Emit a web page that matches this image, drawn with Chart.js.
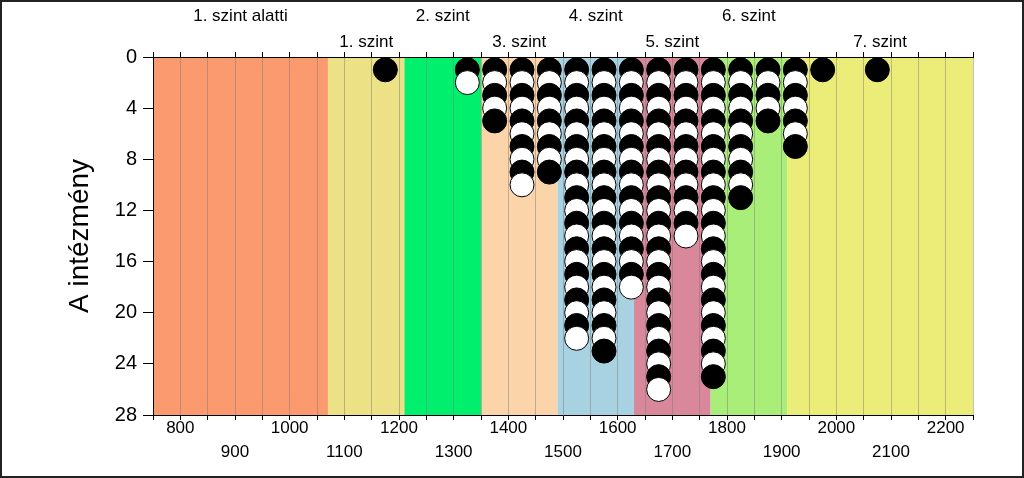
<!DOCTYPE html>
<html>
<head>
<meta charset="utf-8">
<script src="https://cdn.jsdelivr.net/npm/chart.js@4.4.1/dist/chart.umd.min.js"></script>
<style>
  html, body { margin: 0; padding: 0; background: #fff; }
</style>
</head>
<body>
<canvas id="dotchart" width="1024" height="478"></canvas>
<script>
// bin centres (score) and number of institutions in each bin
const binCenters = [1175, 1325, 1375, 1425, 1475, 1525, 1575, 1625, 1675, 1725, 1775, 1825, 1875, 1925, 1975, 2075];
const binCounts = [1, 2, 5, 10, 9, 22, 23, 18, 26, 14, 25, 11, 5, 7, 1, 1];

// proficiency levels
const levelLabels = ['1. szint alatti', '1. szint', '2. szint', '3. szint', '4. szint', '5. szint', '6. szint', '7. szint'];
const levelEdges = [750, 1070, 1210, 1350, 1490, 1630, 1770, 1910, 2250];
const levelColors = ['#fa9a6e', '#ece184', '#00f06e', '#fcd4aa', '#a8d2e2', '#d9879a', '#a8ee78', '#ecec78'];
const levelCenters = levelLabels.map((l, i) => (levelEdges[i] + levelEdges[i + 1]) / 2);

const xMin = 750, xMax = 2250;
const yMin = 0, yMax = 28;

// one dot per institution, stacked down from the top of each bin
const dots = [];
binCenters.forEach((c, i) => {
    for (let k = 1; k <= binCounts[i]; k++) dots.push({ x: c, y: k });
});

Chart.defaults.font.family = "'Liberation Sans', Arial, sans-serif";
Chart.defaults.color = '#000';

const levelBands = {
    id: 'levelBands',
    beforeDraw(chart) {
        const { ctx, chartArea: a, scales: { x } } = chart;
        ctx.save();
        levelColors.forEach((col, i) => {
            const x0 = x.getPixelForValue(levelEdges[i]);
            const x1 = x.getPixelForValue(levelEdges[i + 1]);
            ctx.fillStyle = col;
            ctx.fillRect(x0, a.top, x1 - x0, a.bottom - a.top);
        });
        ctx.restore();
    }
};

const frame = {
    id: 'frame',
    afterDraw(chart) {
        const ctx = chart.ctx;
        ctx.save();
        ctx.strokeStyle = '#222';
        ctx.lineWidth = 2;
        ctx.strokeRect(1, 1, chart.width - 2, chart.height - 2);
        ctx.restore();
    }
};

const ctx = document.getElementById('dotchart').getContext('2d');
const myChart = new Chart(ctx, {
    type: 'scatter',
    data: {
        datasets: [{
            data: dots,
            pointRadius: 12,
            pointHoverRadius: 12,
            borderWidth: 1,
            borderColor: '#000',
            backgroundColor: c => (c.raw && c.raw.y % 2 === 1) ? '#000' : '#fff'
        }]
    },
    options: {
        responsive: false,
        animation: false,
        events: [],
        layout: { padding: { left: 0, right: 51, top: 0, bottom: 0 } },
        plugins: { legend: { display: false }, tooltip: { enabled: false } },
        scales: {
            x: {
                type: 'linear',
                position: 'bottom',
                min: xMin,
                max: xMax,
                afterFit: s => { s.height = 63; },
                border: { color: '#000', width: 1 },
                grid: { color: 'rgba(120,120,120,0.45)', lineWidth: 1, tickColor: '#000', tickLength: 5 },
                ticks: {
                    stepSize: 50,
                    autoSkip: false,
                    maxRotation: 0,
                    padding: -4,
                    font: { size: 17, lineHeight: 1.41 },
                    callback: v => {
                        if (v % 100 !== 0 || v === xMin || v === xMax) return '';
                        return (v / 100) % 2 === 0 ? String(v) : ['', String(v)];
                    }
                }
            },
            xTop: {
                type: 'linear',
                position: 'top',
                min: xMin,
                max: xMax,
                afterFit: s => { s.height = 57; },
                border: { color: '#000', width: 1 },
                grid: {
                    drawOnChartArea: false,
                    tickLength: 5,
                    tickColor: c => (c.tick && Math.round(c.tick.value) % 50 === 0) ? '#000' : 'rgba(0,0,0,0)'
                },
                ticks: {
                    stepSize: 10,
                    autoSkip: false,
                    maxRotation: 0,
                    padding: -3,
                    font: { size: 17, lineHeight: 1.51 },
                    callback: v => {
                        const i = levelCenters.indexOf(Math.round(v));
                        if (i < 0) return '';
                        return i % 2 === 0 ? [levelLabels[i], ''] : levelLabels[i];
                    }
                }
            },
            y: {
                type: 'linear',
                reverse: true,
                min: yMin,
                max: yMax,
                afterFit: s => { s.width = 153; },
                border: { color: '#000', width: 1 },
                grid: { drawOnChartArea: false, tickColor: '#000', tickLength: 10 },
                ticks: { stepSize: 4, padding: 6, font: { size: 20 } },
                title: {
                    display: true,
                    text: 'A intézmény',
                    color: '#000',
                    font: { size: 28 },
                    padding: { top: 63, bottom: 0 }
                }
            }
        }
    },
    plugins: [levelBands, frame]
});
</script>
</body>
</html>
